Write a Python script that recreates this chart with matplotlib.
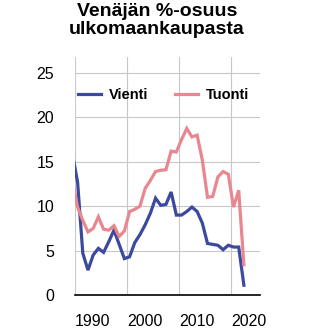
import matplotlib
matplotlib.use("Agg")
import matplotlib.pyplot as plt
import numpy as np

years = list(range(1989, 2023))
vienti = [15.9, 12.7, 4.7, 2.8, 4.5, 5.25, 4.8, 6.0, 7.3, 5.7, 4.1, 4.3,
          5.9, 6.8, 7.9, 9.2, 10.9, 10.1, 10.2, 11.6, 9.0, 9.0, 9.4, 9.9,
          9.4, 8.1, 5.8, 5.7, 5.6, 5.1, 5.6, 5.4, 5.4, 1.1]
tuonti = [12.9, 9.9, 8.4, 7.1, 7.5, 8.8, 7.4, 7.3, 7.8, 6.6, 7.2, 9.4,
          9.65, 10.0, 12.0, 12.9, 13.9, 14.05, 14.1, 16.2, 16.1, 17.5, 18.75, 17.8,
          18.0, 15.2, 11.0, 11.1, 13.3, 13.9, 13.6, 9.9, 11.8, 3.4]
xticks = [1990, 2000, 2010, 2020]
yticks = [0, 5, 10, 15, 20, 25]

plt.rcParams['font.family'] = ['Liberation Sans', 'DejaVu Sans']

fig = plt.figure(figsize=(3.28, 3.36), dpi=100)
ax = fig.add_axes([75/328, 41/336, 185/328, 238/336])

# yearly values drawn at mid-year
x = np.array(years) + 0.5
ax.plot(x, vienti, color='#3b4a9c', lw=2.3, label='Vienti', solid_joinstyle='miter')
ax.plot(x, tuonti, color='#e8878f', lw=2.3, label='Tuonti', solid_joinstyle='miter')

ax.set_xlim(1990, 2025.6)
ax.set_ylim(0, 26.8)
ax.set_xticks(xticks)
ax.set_xticklabels([str(t) for t in xticks], ha='left', fontsize=11.5)
ax.set_yticks(yticks)
ax.set_yticklabels([str(t) for t in yticks], fontsize=11.5)
ax.tick_params(length=0)
ax.tick_params(axis='x', pad=14)
ax.tick_params(axis='y', pad=15)
ax.grid(True, color='#c8c8c8', lw=0.8)
ax.set_axisbelow(True)
for s in ['top', 'right', 'left']:
    ax.spines[s].set_visible(False)
ax.spines['bottom'].set_color('black')
ax.spines['bottom'].set_linewidth(1.2)

leg = ax.legend(loc='upper left', bbox_to_anchor=(3/185, 0.87), ncol=2, frameon=False,
                prop={'weight': 'bold', 'size': 10.5}, handlelength=1.6,
                handletextpad=0.5, columnspacing=1.85, borderaxespad=0, borderpad=0)

fig.text(157/328, 1 - 3/336, 'Venäjän %-osuus\nulkomaankaupasta', ha='center', va='top',
         fontsize=14, fontweight='bold', linespacing=1.05)
fig.savefig('out.png', dpi=100)
